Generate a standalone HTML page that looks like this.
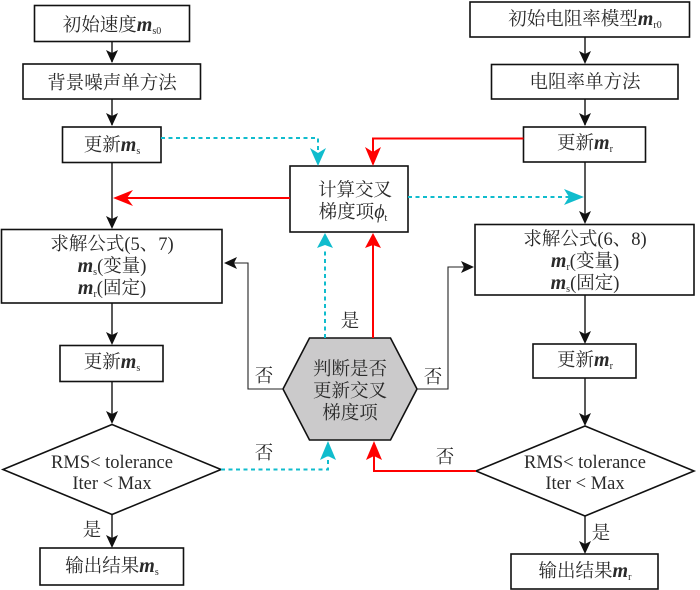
<!DOCTYPE html>
<html><head><meta charset="utf-8"><style>
html,body{margin:0;padding:0;background:#fff}
svg{display:block}
text{font-family:"Liberation Serif","Noto Serif CJK SC",serif;font-size:18.500px;fill:#2a2a2a;text-anchor:middle}
.m{font-weight:bold;font-style:italic;font-size:20px}
.s{font-size:10px}
.b{fill:#fff;stroke:#111;stroke-width:1.6}
.l{fill:none;stroke:#222;stroke-width:1.5}
.t{fill:none;stroke:#222;stroke-width:1.1}
.r{fill:none;stroke:#f00;stroke-width:2}
.c{fill:none;stroke:#10bccd;stroke-width:2;stroke-dasharray:4 3.500}
</style></head><body>
<svg width="700" height="590" viewBox="0 0 700 590" xmlns="http://www.w3.org/2000/svg">
<defs>
<polygon id="ad" points="0,0 -6,-13 0,-10 6,-13"/>
<polygon id="au" points="0,0 -8,15 0,12 8,15"/>
</defs>
<!-- left column -->
<path class="l" d="M112 41V62M112 99V125M112 162V227M112 303V343M112 381V422M112 514V546"/>
<g fill="#111">
<use href="#ad" x="112" y="63"/><use href="#ad" x="112" y="126"/><use href="#ad" x="112" y="229"/><use href="#ad" x="112" y="345"/><use href="#ad" x="112" y="424"/><use href="#ad" x="112" y="548"/>
</g>
<!-- right column -->
<path class="l" d="M585 37V62M585 99V125M585 162V222M585 295V342M585 378V424M585 516V552"/>
<g fill="#111">
<use href="#ad" x="585" y="64"/><use href="#ad" x="585" y="126"/><use href="#ad" x="585" y="224"/><use href="#ad" x="585" y="344"/><use href="#ad" x="585" y="426"/><use href="#ad" x="585" y="554"/>
</g>
<!-- boxes left -->
<rect class="b" x="34.500" y="5.500" width="155" height="36"/>
<rect class="b" x="23" y="64" width="177.500" height="35"/>
<rect class="b" x="62.500" y="127" width="98.500" height="35.500"/>
<rect class="b" x="1.500" y="229.500" width="220.500" height="73.500"/>
<rect class="b" x="60" y="345.500" width="103" height="36"/>
<polygon class="b" points="112,424.500 221,469.500 112,514.500 3,469.500"/>
<rect class="b" x="40" y="548" width="143.500" height="37"/>
<!-- boxes right -->
<rect class="b" x="470" y="2" width="219.500" height="35"/>
<rect class="b" x="491.500" y="64.500" width="186.500" height="34.500"/>
<rect class="b" x="523.500" y="127" width="122" height="35"/>
<rect class="b" x="475" y="224.500" width="219" height="70.500"/>
<rect class="b" x="533" y="344" width="103" height="34"/>
<polygon class="b" points="585,426 694,471 585,516 476,471"/>
<rect class="b" x="511" y="554" width="147" height="35"/>
<!-- center -->
<rect class="b" x="290" y="166" width="118" height="66"/>
<polygon points="309.500,338 390.500,338 417,389 390.500,440 309.500,440 283,389" fill="#cbcacb" stroke="#111" stroke-width="1.600"/>
<!-- thin black -->
<path class="t" d="M283 389H248V263H226M417 389H448V267H471"/>
<polygon points="224,263 237,257 234,263 237,269" fill="#111"/>
<polygon points="474,267 461,261 464,267 461,273" fill="#111"/>
<!-- red -->
<path class="r" d="M523.500 138.500H373V164M290 198H120M373 338V245M476 471H374V450"/>
<g fill="#f00">
<polygon points="373,166 365,147 373,152 381,147"/>
<polygon points="113,198 133,190 127,198 133,206"/>
<use href="#au" x="373" y="233"/>
<polygon points="374,441 366,460 374,456 382,460"/>
</g>
<!-- cyan -->
<path class="c" d="M161 138H318V152M408 197H570M325 338V248M221 469.500H328V456"/>
<g fill="#10bccd">
<polygon points="318,166 310,148 318,153 326,148"/>
<polygon points="584,197 564,189 569,197 564,205"/>
<use href="#au" x="325" y="233"/>
<polygon points="328,441 320,460 328,456 336,460"/>
</g>
<!-- text -->
<text x="112" y="31">初始速度<tspan class="m">m</tspan><tspan class="s" dy="3">s0</tspan></text>
<text x="112" y="89">背景噪声单方法</text>
<text x="112" y="151">更新<tspan class="m">m</tspan><tspan class="s" dy="3">s</tspan></text>
<text x="112" y="250">求解公式(5、7)</text>
<text x="112" y="272"><tspan class="m">m</tspan><tspan class="s" dy="3">s</tspan><tspan dy="-3">(变量)</tspan></text>
<text x="112" y="294"><tspan class="m">m</tspan><tspan class="s" dy="3">r</tspan><tspan dy="-3">(固定)</tspan></text>
<text x="112" y="368">更新<tspan class="m">m</tspan><tspan class="s" dy="3">s</tspan></text>
<text x="112" y="468">RMS&lt; tolerance</text>
<text x="112" y="489">Iter &lt; Max</text>
<text x="112" y="572">输出结果<tspan class="m">m</tspan><tspan class="s" dy="3">s</tspan></text>
<text x="585" y="25">初始电阻率模型<tspan class="m">m</tspan><tspan class="s" dy="3">r0</tspan></text>
<text x="585" y="88">电阻率单方法</text>
<text x="585" y="149">更新<tspan class="m">m</tspan><tspan class="s" dy="3">r</tspan></text>
<text x="585" y="245">求解公式(6、8)</text>
<text x="585" y="267"><tspan class="m">m</tspan><tspan class="s" dy="3">r</tspan><tspan dy="-3">(变量)</tspan></text>
<text x="585" y="289"><tspan class="m">m</tspan><tspan class="s" dy="3">s</tspan><tspan dy="-3">(固定)</tspan></text>
<text x="585" y="366">更新<tspan class="m">m</tspan><tspan class="s" dy="3">r</tspan></text>
<text x="585" y="468">RMS&lt; tolerance</text>
<text x="585" y="489">Iter &lt; Max</text>
<text x="585" y="577">输出结果<tspan class="m">m</tspan><tspan class="s" dy="3">r</tspan></text>
<text x="355" y="196">计算交叉</text>
<text x="353" y="218">梯度项<tspan font-style="italic" font-size="20px">ϕ</tspan><tspan class="s" dy="3">t</tspan></text>
<text x="350" y="375">判断是否</text>
<text x="350" y="397">更新交叉</text>
<text x="350" y="419">梯度项</text>
<text x="264" y="382">否</text>
<text x="350" y="327">是</text>
<text x="433" y="383">否</text>
<text x="264" y="459">否</text>
<text x="445" y="463">否</text>
<text x="92" y="536">是</text>
<text x="601" y="539">是</text>
</svg>
</body></html>
